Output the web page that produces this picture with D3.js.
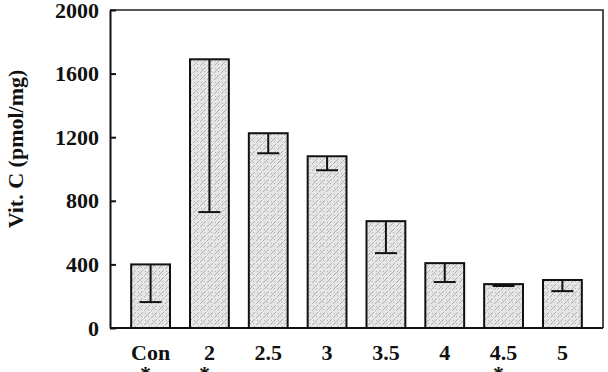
<!DOCTYPE html>
<html lang="en">
<head>
    <meta charset="UTF-8">
    <title>Vit. C</title>
    <script src="https://d3js.org/d3.v7.min.js"></script>
    <style>
        body { margin: 0; background: #fff; }
        text { font-family: "Liberation Serif", "Times New Roman", serif; font-weight: bold; fill: #111; }
    </style>
</head>
<body>
    <svg width="608" height="372"></svg>
    <script>
        // data
        const groups = ["Con", "2", "2.5", "3", "3.5", "4", "4.5", "5"];
        const means = [400, 1690, 1225, 1080, 672, 408, 276, 302];
        const errs = [237, 961, 126, 88, 201, 119, 12, 70];
        const marked = ["Con", "2", "4.5"];   // groups with an asterisk
        const yTicks = [0, 400, 800, 1200, 1600, 2000];

        const plotLeft = 110, plotRight = 603, plotTop = 10, plotBottom = 328;
        const svg = d3.select("svg");

        // bar texture
        const pat = svg.append("defs").append("pattern")
            .attr("id", "tex")
            .attr("patternUnits", "userSpaceOnUse")
            .attr("width", 7).attr("height", 7);
        pat.append("rect").attr("width", 7).attr("height", 7).attr("fill", "#e6e6e6");
        pat.append("path")
            .attr("d", "M0,7L3,4M4,3L7,0M1,1L2,2M5,5L6,6")
            .attr("stroke", "#b0b0b0")
            .attr("stroke-width", 1);

        const x = d3.scaleBand()
            .domain(groups)
            .range([plotLeft, plotRight])
            .paddingInner(0.34)
            .paddingOuter(0.36);

        const y = d3.scaleLinear()
            .domain([0, 2000])
            .range([plotBottom, plotTop]);

        // frame: top and right lines
        svg.append("path")
            .attr("d", `M${plotLeft},${plotTop}H${plotRight}V${plotBottom}`)
            .attr("fill", "none")
            .attr("stroke", "#222")
            .attr("stroke-width", 1.6);

        // bars
        svg.append("g").selectAll("rect")
            .data(groups)
            .join("rect")
            .attr("x", d => x(d))
            .attr("y", (d, i) => y(means[i]))
            .attr("width", x.bandwidth())
            .attr("height", (d, i) => y(0) - y(means[i]))
            .attr("fill", "url(#tex)")
            .attr("stroke", "#111")
            .attr("stroke-width", 2);

        // lower error whiskers
        const eb = svg.append("g").attr("stroke", "#111").attr("stroke-width", 2);
        groups.forEach((g, i) => {
            const cx = x(g) + x.bandwidth() / 2;
            eb.append("line")
                .attr("x1", cx).attr("x2", cx)
                .attr("y1", y(means[i])).attr("y2", y(means[i] - errs[i]));
            eb.append("line")
                .attr("x1", cx - 11).attr("x2", cx + 11)
                .attr("y1", y(means[i] - errs[i])).attr("y2", y(means[i] - errs[i]));
        });

        // y axis, ticks pointing inward
        const yAxis = svg.append("g")
            .attr("transform", `translate(${plotLeft},0)`)
            .call(d3.axisLeft(y).tickValues(yTicks).tickFormat(d3.format("d"))
                .tickSizeInner(-6).tickSizeOuter(0).tickPadding(11));
        yAxis.selectAll("path, line").attr("stroke", "#111").attr("stroke-width", 2);
        yAxis.selectAll("text")
            .attr("font-size", 22)
            .attr("font-family", "Liberation Serif")
            .attr("font-weight", "bold")
            .attr("fill", "#111");

        // x axis
        const xAxis = svg.append("g")
            .attr("transform", `translate(0,${plotBottom})`)
            .call(d3.axisBottom(x).tickSize(0).tickPadding(16));
        xAxis.select(".domain")
            .attr("d", `M${plotLeft},0H${plotRight}`)
            .attr("stroke", "#111").attr("stroke-width", 2);
        xAxis.selectAll("text")
            .attr("font-size", 22)
            .attr("font-family", "Liberation Serif")
            .attr("font-weight", "bold")
            .attr("fill", "#111");

        // asterisks under significant groups (cut off by the page edge, as in the figure)
        svg.append("g").selectAll("text")
            .data(marked)
            .join("text")
            .attr("x", d => x(d) + x.bandwidth() / 2 - 5)
            .attr("y", 381)
            .attr("text-anchor", "middle")
            .attr("font-size", 22)
            .text("*");

        // y label
        svg.append("text")
            .attr("transform", "translate(23,149) rotate(-90)")
            .attr("text-anchor", "middle")
            .attr("font-size", 22)
            .text("Vit. C (pmol/mg)");
    </script>
</body>
</html>
